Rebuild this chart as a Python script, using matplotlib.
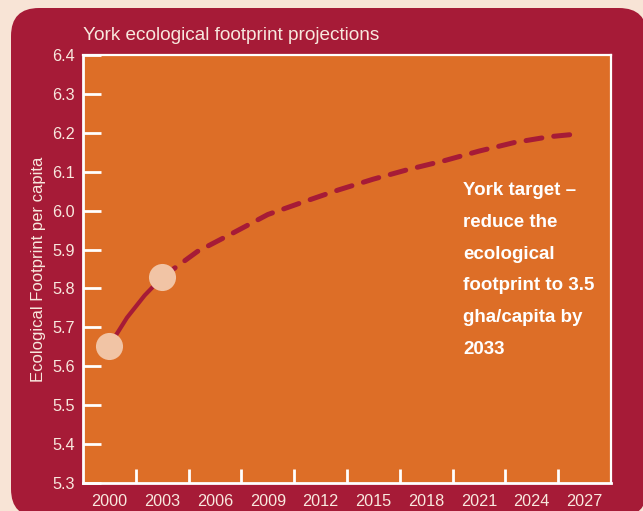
import matplotlib
matplotlib.use("Agg")
import matplotlib.pyplot as plt
from matplotlib.patches import FancyBboxPatch

plt.rcParams['font.family'] = ['Liberation Sans', 'DejaVu Sans']

# Measured footprint (solid) and projection (dashed), gha per capita
measured_years = [2000, 2001, 2002, 2003]
measured_values = [5.653, 5.725, 5.782, 5.829]
projection_years = [2003, 2005, 2007, 2009, 2011, 2013, 2015, 2017,
                    2019, 2021, 2023, 2025, 2026.6]
projection_values = [5.829, 5.895, 5.942, 5.99, 6.022, 6.053, 6.081,
                     6.106, 6.128, 6.153, 6.175, 6.19, 6.197]
marker_years = [2000, 2003]
marker_values = [5.653, 5.829]

x_labels = ['2000', '2003', '2006', '2009', '2012', '2015',
            '2018', '2021', '2024', '2027']
y_ticks = [5.3, 5.4, 5.5, 5.6, 5.7, 5.8, 5.9, 6.0, 6.1, 6.2, 6.3, 6.4]

title = 'York ecological footprint projections'
y_title = 'Ecological Footprint per capita'
note = ('York target –\nreduce the\necological\nfootprint to 3.5\n'
        'gha/capita by\n2033')

BG = '#F8E4D6'
PANEL = '#A61B37'
PLOT = '#DD6E27'
DOT = '#F1C4A5'
LINE = '#A61B37'
LIGHT = '#F8E8DE'

fig = plt.figure(figsize=(6.43, 5.11), dpi=100)
fig.patch.set_facecolor(BG)

# rounded card behind the chart (inch coordinates)
card = FancyBboxPatch((0.11, -0.06), 6.36, 5.09,
                      boxstyle='round,pad=0,rounding_size=0.28',
                      transform=fig.dpi_scale_trans,
                      facecolor=PANEL, edgecolor='none', zorder=-5)
fig.patches.append(card)

ax = fig.add_axes([83 / 643, 1 - 483 / 511, (611 - 83) / 643, (483 - 55) / 511])
ax.set_zorder(2)
ax.set_facecolor(PLOT)

ax.plot(measured_years, measured_values, color=LINE, lw=3.0,
        solid_capstyle='round', zorder=3)
ax.plot(projection_years, projection_values, color=LINE, lw=3.6,
        linestyle=(0, (3.2, 2.4)), dash_capstyle='round', zorder=3)
ax.plot(marker_years, marker_values, 'o', ms=19.5, color=DOT,
        markeredgewidth=0, zorder=4)

ax.set_xlim(1998.5, 2028.5)
ax.set_ylim(5.3, 6.4)

years = [int(s) for s in x_labels]
ax.set_xticks([y + 1.5 for y in years[:-1]])
ax.set_xticklabels([])
ax.set_xticks(years, minor=True)
ax.set_xticklabels(x_labels, minor=True)
ax.tick_params(axis='x', which='major', direction='in', length=10,
               width=2, color='white')
ax.tick_params(axis='x', which='minor', length=0, pad=8,
               labelsize=11.7, labelcolor=LIGHT)

ax.set_yticks(y_ticks)
ax.set_yticklabels([f'{v:.1f}' for v in y_ticks])
ax.tick_params(axis='y', direction='in', length=13, width=2,
               color='white', pad=6, labelsize=11.7, labelcolor=LIGHT)

for side, sp in ax.spines.items():
    sp.set_color('white')
    sp.set_linewidth(2.0 if side in ('left', 'bottom') else 1.6)

ax.set_ylabel(y_title, fontsize=12, color=LIGHT, labelpad=4)
fig.text(83 / 643, 1 - 35 / 511, title, fontsize=13.7, color=LIGHT,
         ha='left', va='center')

ax.text(2020.1, 6.073, note, fontsize=13.5, fontweight='bold', color='white',
        ha='left', va='top', linespacing=2.13)

fig.savefig('out.png', dpi=100, facecolor=BG)
